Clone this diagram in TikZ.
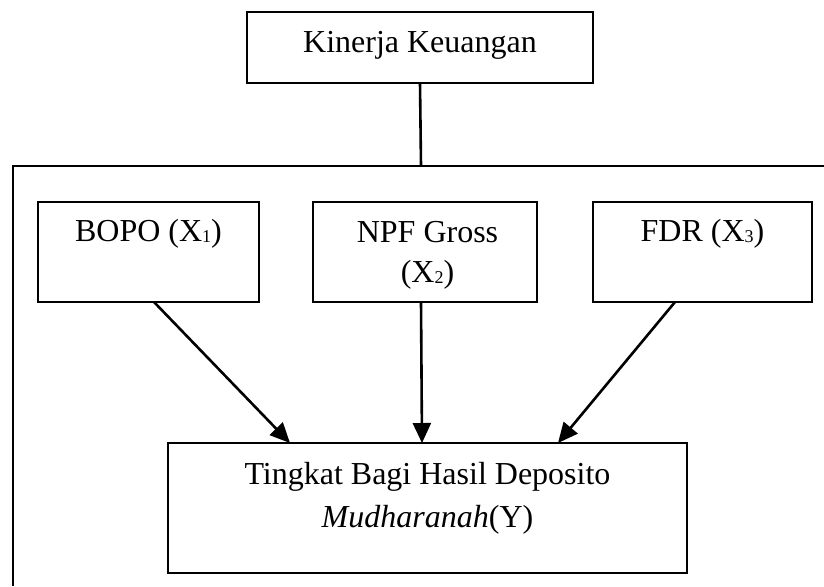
\documentclass[tikz,border=0pt]{standalone}
\usepackage{fontspec}
\setmainfont{Liberation Serif}
\usepackage{tikz}
\usetikzlibrary{arrows.meta}
\usetikzlibrary{positioning}

\newcommand{\kecil}[1]{\raisebox{-0.6pt}{\fontsize{9}{9}\selectfont #1}}

\tikzset{
    varbox/.style={draw, line width=1.3pt, inner sep=0pt, outer sep=0pt},
    lbl/.style={anchor=base, inner sep=0pt, font=\fontsize{16}{20}\selectfont, align=center},
    panah/.style={line width=1.3pt, -{Triangle[length=10pt,width=9pt]}}
}

\begin{document}
\begin{tikzpicture}[x=0.5pt, y=-0.5pt]
        \useasboundingbox (0,0) rectangle (824,586);

        % boxes
        \node[varbox, minimum width=173pt, minimum height=35.5pt] (kinerja) at (420,47.5) {};
        \node[varbox, minimum width=110.5pt, minimum height=50pt] (bopo) at (148.5,252) {};
        \node[varbox, minimum width=112pt, minimum height=50pt] (npf) at (425,252) {};
        \node[varbox, minimum width=109.5pt, minimum height=50pt] (fdr) at (702.5,252) {};
        \node[varbox, minimum width=259.5pt, minimum height=65pt] (tingkat) at (427.5,508) {};

        % texts (base = last line)
        \node[lbl] (kinerjatxt) at (420,52) {Kinerja Keuangan};
        \node[lbl] (bopotxt) at (148.5,241) {BOPO (X\kecil{1})};
        \node[lbl] (npftxt) at (427.5,282) {NPF Gross\\(X\kecil{2})};
        \node[lbl] (fdrtxt) at (702.5,241) {FDR (X\kecil{3})};
        \node[lbl] (tingkattxt) at (427.5,527) {Tingkat Bagi Hasil Deposito\\[1.5pt]\textit{Mudharanah}(Y)};

        % outer frame
        \coordinate (frametop) at (421,166);
        \coordinate (framecorner) at (13,166);
        \draw[line width=1.3pt] (824,166) -- (framecorner) -- (13,586);
        \draw[line width=1.3pt] (kinerja.south) -- (frametop);

        % arrows
        \draw[panah] ([xshift=2.75pt]bopo.south) -- ([xshift=-68.75pt]tingkat.north);
        \draw[panah] ([xshift=-2pt]npf.south) -- ([xshift=-2.75pt]tingkat.north);
        \draw[panah] ([xshift=-13.75pt]fdr.south) -- ([xshift=65.25pt]tingkat.north);

\end{tikzpicture}
\end{document}
